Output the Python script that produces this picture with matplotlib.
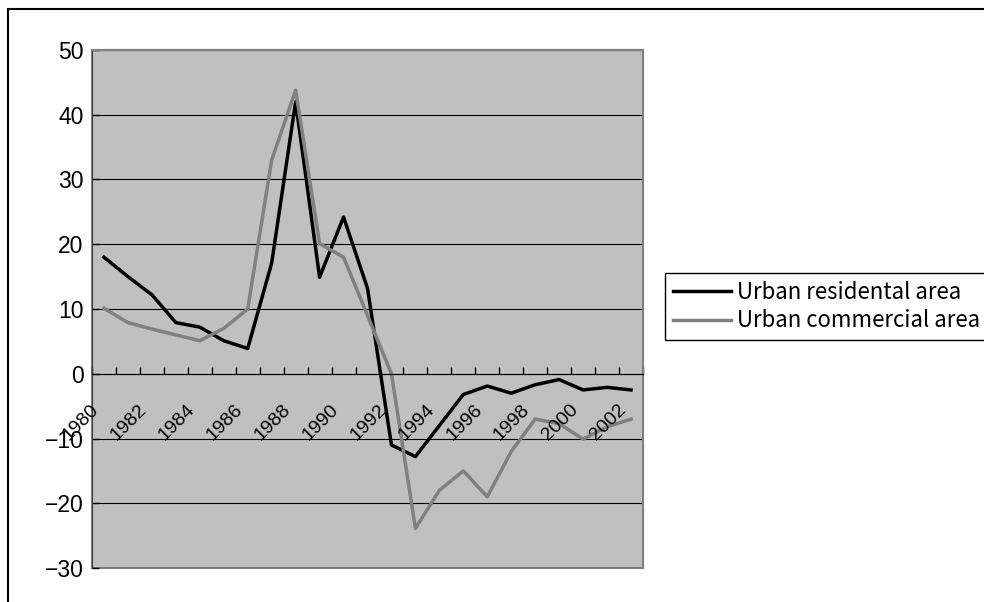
import matplotlib
matplotlib.use("Agg")
import matplotlib.pyplot as plt
from matplotlib.patches import Rectangle
from matplotlib.ticker import FixedLocator, NullFormatter

# data
years = list(range(1980, 2003))
residential = [18.0, 15.0, 12.2, 7.9, 7.2, 5.1, 3.9, 17.1, 42.0, 14.9, 24.2, 13.2,
               -11.0, -12.8, -8.0, -3.2, -1.9, -3.0, -1.7, -0.9, -2.5, -2.1, -2.5]
commercial = [10.1, 7.9, 6.9, 6.0, 5.1, 7.0, 10.0, 33.0, 43.8, 20.1, 18.0, 9.0,
              0.0, -23.9, -18.0, -15.0, -19.0, -12.0, -7.0, -7.7, -10.1, -8.2, -7.0]
year_labels = [str(y) for y in years[::2]]
y_ticks = [-30, -20, -10, 0, 10, 20, 30, 40, 50]

W, H = 984, 602
fig = plt.figure(figsize=(W / 100, H / 100), dpi=100)
ax = fig.add_axes([92 / W, 1 - 568 / H, (643 - 92) / W, (568 - 50) / H])

x = list(range(len(years)))
ax.plot(x, residential, color="black", lw=2.5, label="Urban residental area")
ax.plot(x, commercial, color="#808080", lw=2.5, label="Urban commercial area")

ax.set_xlim(-0.5, len(years) - 0.5)
ax.set_ylim(-30, 50)
ax.set_facecolor("#C0C0C0")

# horizontal grid
ax.set_yticks(y_ticks)
ax.set_yticklabels([f"{v}".replace("-", "\u2212") for v in y_ticks],
                   fontsize=16.5, family="Liberation Sans")
ax.yaxis.grid(True, color="black", lw=0.8)
ax.tick_params(axis="y", direction="in", length=5, width=1, pad=6)

# category axis sits at zero, ticks between categories
ax.spines["bottom"].set_position(("data", 0))
ax.spines["bottom"].set_color("black")
ax.xaxis.set_major_locator(FixedLocator([i - 0.5 for i in range(len(years) + 1)]))
ax.xaxis.set_major_formatter(NullFormatter())
ax.tick_params(axis="x", direction="in", length=5, width=1)
for sp in ["top", "right"]:
    ax.spines[sp].set_color("#808080")
    ax.spines[sp].set_linewidth(1.5)
ax.spines["left"].set_color("#404040")
ax.add_patch(Rectangle((0, 0), 1, 1, transform=ax.transAxes, fill=False,
                       ec="#808080", lw=1.5, clip_on=False, zorder=0.5))

for i, lab in zip(x[::2], year_labels):
    ax.annotate(lab, xy=(i, 0), xytext=(-10, -20), textcoords="offset points",
                rotation=45, rotation_mode="anchor", ha="right", va="top",
                fontsize=14, family="Liberation Sans")

leg = ax.legend(loc="upper left", bbox_to_anchor=(665 / W, 1 - 273 / H),
                bbox_transform=fig.transFigure, frameon=True, fancybox=False,
                edgecolor="black", framealpha=1, borderaxespad=0,
                handlelength=2.6, handletextpad=0.3, borderpad=0.35,
                labelspacing=0.25, prop={"family": "Noto Sans CJK JP", "size": 16})
leg.get_frame().set_linewidth(1)

# outer chart border (runs off the right and bottom edges)
fig.add_artist(Rectangle((8 / W, -0.1), 1.2, 1 - 9 / H + 0.1,
                         transform=fig.transFigure, fill=False,
                         ec="black", lw=1.5))

fig.savefig("out.png", dpi=100)
